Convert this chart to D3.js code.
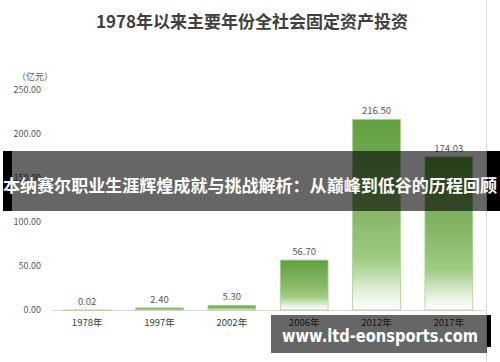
<!DOCTYPE html>
<html>
<head>
<meta charset="utf-8">
<script src="https://cdn.jsdelivr.net/npm/d3@7/dist/d3.min.js"></script>
<style>
  html, body { margin: 0; padding: 0; background: #fff; }
  svg { display: block; }
</style>
</head>
<body>
<div id="chart"></div>
<script>
const categories = ["1978年", "1997年", "2002年", "2006年", "2012年", "2017年"];
const values = [0.02, 2.40, 5.30, 56.70, 216.50, 174.03];
const yTicks = [0, 50, 100, 150, 200, 250];
const title = "1978年以来主要年份全社会固定资产投资";
const unitLabel = "（亿元）";
const bannerText = "本纳赛尔职业生涯辉煌成就与挑战解析：从巅峰到低谷的历程回顾";
const watermarkText = "www.ltd-eonsports.com";

const width = 500, height = 362;
const margin = {top: 90, right: 15, bottom: 52, left: 51};
const fontFamily = "'Noto Sans CJK SC', 'Noto Sans', sans-serif";

const svg = d3.select("#chart")
  .append("svg")
  .attr("width", width)
  .attr("height", height)
  .style("font-family", fontFamily);

// bar gradient: green at top fading to white at the bottom
const defs = svg.append("defs");
const grad = defs.append("linearGradient")
  .attr("id", "barFill")
  .attr("x1", 0).attr("y1", 0)
  .attr("x2", 0).attr("y2", 1);
[[0, "#60a03f"], [0.5, "#88b769"], [0.74, "#a0cc84"], [0.9, "#e2efda"], [1, "#ffffff"]]
  .forEach(([o, c]) => grad.append("stop").attr("offset", o).attr("stop-color", c));

// right border line of the original image
svg.append("line")
  .attr("x1", 486.5).attr("x2", 486.5)
  .attr("y1", 0).attr("y2", height)
  .attr("stroke", "#d9d9d9");

svg.append("text")
  .attr("x", 252)
  .attr("y", 28)
  .attr("text-anchor", "middle")
  .attr("font-size", "17px")
  .attr("font-weight", "bold")
  .attr("fill", "#404040")
  .text(title);

const x = d3.scaleBand()
  .domain(categories)
  .range([margin.left, 486 - 1])
  .paddingInner(0.34)
  .paddingOuter(0.17);

const y = d3.scaleLinear()
  .domain([0, 250])
  .range([height - margin.bottom, margin.top]);

// y axis labels (no axis line)
const yAxis = svg.append("g")
  .attr("transform", `translate(${margin.left - 7}, 0)`)
  .call(d3.axisLeft(y).tickValues(yTicks).tickFormat(d3.format(".2f")).tickSize(0));
yAxis.select(".domain").remove();
yAxis.selectAll("text")
  .attr("font-family", fontFamily)
  .attr("font-size", "9px")
  .attr("fill", "#595959");

svg.append("text")
  .attr("x", 17)
  .attr("y", 80)
  .attr("font-size", "9px")
  .attr("fill", "#595959")
  .text(unitLabel);

// baseline
svg.append("line")
  .attr("x1", margin.left + 1).attr("x2", 485)
  .attr("y1", y(0) + 0.5).attr("y2", y(0) + 0.5)
  .attr("stroke", "#d9d9d9");

const bars = svg.append("g")
  .selectAll("g")
  .data(categories.map((c, i) => ({cat: c, value: values[i]})))
  .enter()
  .append("g");

bars.append("rect")
  .attr("x", d => x(d.cat))
  .attr("y", d => y(d.value))
  .attr("width", x.bandwidth())
  .attr("height", d => Math.max(y(0) - y(d.value), 0.5))
  .attr("fill", "url(#barFill)")
  .attr("stroke", "#a9d08e")
  .attr("stroke-width", 0.8);

bars.append("text")
  .attr("x", d => x(d.cat) + x.bandwidth() / 2)
  .attr("y", d => y(d.value) - 5)
  .attr("text-anchor", "middle")
  .attr("font-size", "9.5px")
  .attr("fill", "#595959")
  .text(d => d3.format(".2f")(d.value));

// x axis labels
const xAxis = svg.append("g")
  .attr("transform", `translate(0, ${y(0)})`)
  .call(d3.axisBottom(x).tickSize(0).tickPadding(9));
xAxis.select(".domain").remove();
xAxis.selectAll("text")
  .attr("font-family", fontFamily)
  .attr("font-size", "9.5px")
  .attr("fill", "#404040");

// overlay banner: opaque black strips at both ends, translucent grey between
svg.append("rect").attr("x", 3).attr("y", 151).attr("width", 9).attr("height", 60).attr("fill", "#000");
svg.append("rect").attr("x", 487).attr("y", 151).attr("width", 13).attr("height", 60).attr("fill", "#000");
svg.append("rect").attr("x", 12).attr("y", 151).attr("width", 475).attr("height", 60).attr("fill", "rgba(0,0,0,0.6)");
svg.append("text")
  .attr("x", 250)
  .attr("y", 192)
  .attr("text-anchor", "middle")
  .attr("font-size", "17px")
  .attr("font-weight", "bold")
  .attr("fill", "#fff")
  .attr("textLength", 494)
  .attr("lengthAdjust", "spacingAndGlyphs")
  .text(bannerText);

// watermark
svg.append("rect").attr("x", 487).attr("y", 315).attr("width", 4).attr("height", 32).attr("fill", "#000");
svg.append("rect").attr("x", 271).attr("y", 315).attr("width", 216).attr("height", 38).attr("fill", "rgba(0,0,0,0.6)");
svg.append("text")
  .attr("x", 380)
  .attr("y", 342)
  .attr("text-anchor", "middle")
  .attr("font-family", "'DejaVu Sans', sans-serif")
  .attr("font-size", "17px")
  .attr("font-weight", "bold")
  .attr("fill", "#fff")
  .attr("textLength", 196)
  .attr("lengthAdjust", "spacingAndGlyphs")
  .text(watermarkText);
</script>
</body>
</html>
